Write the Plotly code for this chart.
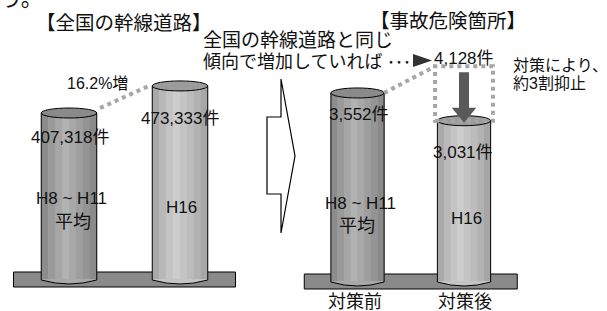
import plotly.graph_objects as go

# ---------------- data ----------------
left_title = "【全国の幹線道路】"
right_title = "【事故危険箇所】"
left_categories = ["H8 ~ H11", "平均", "H16"]
left_values = [407318, 473333]
left_growth_label = "16.2%増"
right_values = [3552, 3031]
right_projected = 4128
right_axis_labels = ["対策前", "対策後"]
projection_note = ["全国の幹線道路と同じ", "傾向で増加していれば", "･･･"]
effect_note = ["対策により、", "約3割抑止"]

# ---------------- layout helpers ----------------
W, H = 607, 311
FONT = "Liberation Sans, Arial, Noto Sans CJK JP, sans-serif"

def P(x, y):
    return x / W, 1 - y / H

# pixel calibration of the two panels
L_X0, L_DX, L_BASE, L_SC = 69.0, 111.0, 280.0, 2439.0
R_X0, R_DX, R_BASE, R_SC = 357.5, 106.5, 282.0, 18.79
L_DOM = (0, 250)
R_DOM = (295, 607)

BW = 0.5  # cylinder width in category units

dark_stripes = ["#8c8c8c", "#9a9a9a", "#a6a6a6", "#b2b2b2", "#a8a8a8",
                "#9e9e9e", "#949494", "#8a8a8a"]
light_stripes = ["#a9a9a9", "#b8b8b8", "#c4c4c4", "#cccccc", "#c4c4c4",
                 "#bcbcbc", "#b2b2b2", "#a6a6a6"]
dark_cap, light_cap = "#8a8a8a", "#9c9c9c"

shapes = []
annotations = []


def plate(xref, yref):
    shapes.append(dict(type="rect", xref=xref, yref=yref, layer="below",
                       x0=-0.5, x1=1.5, ysizemode="pixel", yanchor=0,
                       y0=-7, y1=8, fillcolor="#8a8a8a",
                       line=dict(color="black", width=1)))


def cylinder(xref, yref, xc, v, stripes, cap):
    n = len(stripes)
    x0 = xc - BW / 2
    x1 = xc + BW / 2
    w = BW / n
    for i, c in enumerate(stripes):
        shapes.append(dict(type="rect", xref=xref, yref=yref,
                           x0=x0 + i * w, x1=x0 + (i + 1) * w + 0.002,
                           y0=0, y1=v, fillcolor=c, line=dict(width=0)))
    mid = stripes[n // 2]
    shapes.append(dict(type="path", xref=xref, yref=yref, ysizemode="pixel",
                       yanchor=0,
                       path=f"M {x0},1 L {x0},0 Q {xc},-8 {x1},0 L {x1},1 Z",
                       fillcolor=mid, line=dict(width=0)))
    shapes.append(dict(type="path", xref=xref, yref=yref, ysizemode="pixel",
                       yanchor=0,
                       path=f"M {x0},0 Q {xc},-8 {x1},0",
                       fillcolor="rgba(0,0,0,0)",
                       line=dict(color="black", width=1)))
    for xx in (x0, x1):
        shapes.append(dict(type="line", xref=xref, yref=yref,
                           x0=xx, x1=xx, y0=0, y1=v,
                           line=dict(color="black", width=1)))
    shapes.append(dict(type="circle", xref=xref, yref=yref, ysizemode="pixel",
                       yanchor=v, x0=x0, x1=x1, y0=-5, y1=5,
                       fillcolor=cap, line=dict(color="black", width=1)))


def text(t, x, y, size=17, anchor="center", color="#111111", yanchor="middle"):
    px, py = P(x, y)
    annotations.append(dict(text=t, x=px, y=py, xref="paper", yref="paper",
                            xanchor=anchor, yanchor=yanchor, showarrow=False,
                            font=dict(family=FONT, size=size, color=color)))


fig = go.Figure()

fig.add_trace(go.Bar(x=[0, 1], y=left_values, width=BW,
                     marker=dict(color=[dark_stripes[3], light_stripes[3]], line=dict(width=0)),
                     xaxis="x", yaxis="y", hoverinfo="skip", showlegend=False))
fig.add_trace(go.Bar(x=[0, 1], y=right_values, width=BW,
                     marker=dict(color=[dark_stripes[3], light_stripes[3]], line=dict(width=0)),
                     xaxis="x2", yaxis="y2", hoverinfo="skip", showlegend=False))

plate("x", "y")
plate("x2", "y2")
cylinder("x", "y", 0, left_values[0], dark_stripes, dark_cap)
cylinder("x", "y", 1, left_values[1], light_stripes, light_cap)
cylinder("x2", "y2", 0, right_values[0], dark_stripes, dark_cap)
cylinder("x2", "y2", 1, right_values[1], light_stripes, light_cap)

# left dashed growth line
shapes.append(dict(type="line", xref="x", yref="y",
                   x0=0.28, y0=left_values[0] + 5 * L_SC,
                   x1=0.72, y1=left_values[1],
                   line=dict(color="#a6a6a6", width=4, dash="dot")))

# right: projection box and dashed line
bx0, bx1 = 1 - 0.272, 1 + 0.272
box_top = right_projected - 4 * R_SC
shapes.append(dict(type="line", xref="x2", yref="y2",
                   x0=0.25, y0=right_values[0], x1=bx0, y1=box_top,
                   line=dict(color="#a6a6a6", width=4, dash="dot")))
shapes.append(dict(type="rect", xref="x2", yref="y2",
                   x0=bx0, x1=bx1, y0=right_values[1], y1=box_top,
                   fillcolor="rgba(0,0,0,0)",
                   line=dict(color="#a6a6a6", width=4, dash="dot")))

# down arrow
tip = right_values[1] - 2 * R_SC
hb = tip + 15 * R_SC
top = right_projected - 10 * R_SC
sw, hw = 0.047, 0.115
shapes.append(dict(type="path", xref="x2", yref="y2",
                   path=(f"M {1-sw},{top} L {1+sw},{top} L {1+sw},{hb} L {1+hw},{hb} "
                         f"L 1,{tip} L {1-hw},{hb} L {1-sw},{hb} Z"),
                   fillcolor="#595959", line=dict(width=0)))

# hollow chevron arrow between panels
pts = [(281, 79), (281, 117), (267, 117), (267, 194), (281, 194), (281, 233), (295, 156)]
path = "M " + " L ".join(f"{P(x, y)[0]},{P(x, y)[1]}" for x, y in pts) + " Z"
shapes.append(dict(type="path", xref="paper", yref="paper", path=path,
                   fillcolor="white", line=dict(color="black", width=1.2)))

# small black triangle
tri = [(413, 54), (413, 67), (432, 60.5)]
path = "M " + " L ".join(f"{P(x, y)[0]},{P(x, y)[1]}" for x, y in tri) + " Z"
shapes.append(dict(type="path", xref="paper", yref="paper", path=path,
                   fillcolor="#333333", line=dict(width=0)))

# ---------------- texts ----------------
text("う。", -2, 13, 22, anchor="left", yanchor="bottom")
text(left_title, 123.5, 23, 19.5)
text(right_title, 447.5, 21, 19.5)
text(projection_note[0], 201, 40, 19, anchor="left")
text(projection_note[1], 201, 62, 18, anchor="left")
text(projection_note[2], 399, 62, 16)
text(f"{right_projected:,}件", 464, 58, 17)
text(left_growth_label, 97.5, 83, 16)
text(f"{left_values[0]:,}件", 69.5, 137, 17)
text(f"{left_values[1]:,}件", 180, 118, 17)
text(left_categories[0], 71.5, 198, 17)
text(left_categories[1], 72.5, 222, 18)
text(left_categories[2], 181, 207, 17)
text(f"{right_values[0]:,}件", 359, 114, 17)
text(f"{right_values[1]:,}件", 463, 152, 17)
text(left_categories[0], 360, 203, 17)
text(left_categories[1], 357, 226, 18)
text(left_categories[2], 466, 218, 17)
text(right_axis_labels[0], 355, 302, 18)
text(right_axis_labels[1], 465, 302, 18)
text(effect_note[0], 511, 65, 16, anchor="left")
text(effect_note[1], 511, 83, 16, anchor="left")

fig.update_layout(
    width=W, height=H,
    margin=dict(l=0, r=0, t=0, b=0),
    paper_bgcolor="white", plot_bgcolor="white",
    showlegend=False,
    xaxis=dict(domain=[L_DOM[0] / W, L_DOM[1] / W],
               range=[(L_DOM[0] - L_X0) / L_DX, (L_DOM[1] - L_X0) / L_DX],
               visible=False, fixedrange=True),
    yaxis=dict(domain=[0, 1], range=[-(H - L_BASE) * L_SC, L_BASE * L_SC],
               visible=False, fixedrange=True),
    xaxis2=dict(domain=[R_DOM[0] / W, R_DOM[1] / W],
                range=[(R_DOM[0] - R_X0) / R_DX, (R_DOM[1] - R_X0) / R_DX],
                visible=False, fixedrange=True, anchor="y2"),
    yaxis2=dict(domain=[0, 1], range=[-(H - R_BASE) * R_SC, R_BASE * R_SC],
                visible=False, fixedrange=True, anchor="x2"),
    shapes=shapes,
    annotations=annotations,
)

fig.write_html("out.html", config={"displayModeBar": False},
               post_script="document.body.style.margin='0';")
